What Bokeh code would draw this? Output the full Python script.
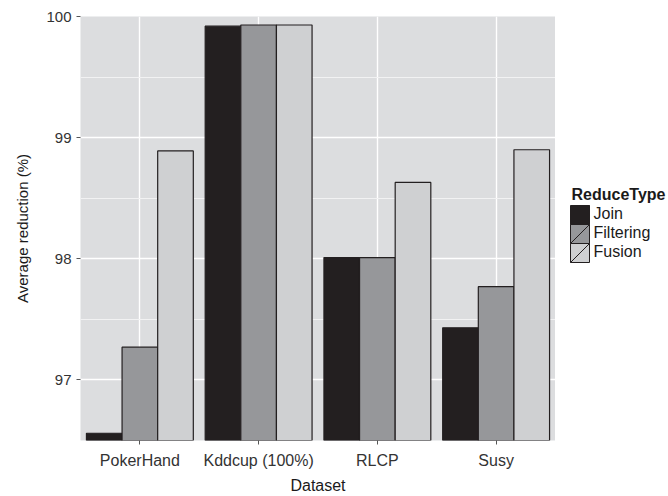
from bokeh.plotting import figure
from bokeh.models import Range1d, FactorRange, ColumnDataSource, FixedTicker
from bokeh.transform import dodge
from bokeh.layouts import row
from bokeh.core.properties import value
from bokeh.embed import file_html
from bokeh.resources import INLINE
import numpy as np

# ---- data ----
datasets = ["PokerHand", "Kddcup (100%)", "RLCP", "Susy"]
reduce_types = ["Join", "Filtering", "Fusion"]
join = [96.56, 99.92, 98.01, 97.43]
filtering = [97.27, 99.93, 98.01, 97.77]
fusion = [98.89, 99.93, 98.63, 98.90]
colors = ["#231f20", "#96979a", "#cfd0d2"]
y_ticks = [97, 98, 99, 100]
y_minor = [96.5, 97.5, 98.5, 99.5]
y_lo, y_hi = 96.5, 100.0

FONT_NAME = "Liberation Sans"
FONT = value(FONT_NAME)

TOP, BOTTOM, H = 16, 56, 496

p = figure(width=555, height=H, x_range=FactorRange(*datasets, range_padding=0),
           y_range=Range1d(y_lo, y_hi), output_backend="svg", toolbar_location=None,
           min_border_left=80, min_border_right=0, min_border_top=TOP, min_border_bottom=BOTTOM)
p.background_fill_color = "#dcdddf"
p.border_fill_color = "white"
p.outline_line_color = None

src = ColumnDataSource(dict(dataset=datasets, Join=join, Filtering=filtering, Fusion=fusion))
offsets = [-0.3, 0.0, 0.3]
for name, off, col in zip(reduce_types, offsets, colors):
    p.vbar(x=dodge("dataset", off, range=p.x_range), top=name, bottom=y_lo - 1, width=0.3,
           source=src, fill_color=col, line_color="#231f20", line_width=1.2)

# grids
p.yaxis.ticker = FixedTicker(ticks=y_ticks, minor_ticks=y_minor)
p.ygrid.grid_line_color = "white"
p.ygrid.grid_line_width = 1.4
p.ygrid.minor_grid_line_color = "#f2f2f3"
p.ygrid.minor_grid_line_width = 1.1
p.xgrid.grid_line_color = "white"
p.xgrid.grid_line_width = 1.4

# axes
for ax in (p.xaxis[0], p.yaxis[0]):
    ax.axis_line_color = None
    ax.major_tick_line_color = "#555555"
    ax.major_tick_line_width = 1
    ax.major_tick_out = 4
    ax.major_tick_in = 0
    ax.minor_tick_line_color = None
    ax.major_label_text_font = FONT_NAME
    ax.major_label_text_color = "#333333"
    ax.axis_label_text_font = FONT_NAME
    ax.axis_label_text_font_style = "normal"
    ax.axis_label_text_color = "#1a1a1a"

p.xaxis.major_label_text_font_size = "16px"
p.xaxis.axis_label_text_font_size = "16px"
p.yaxis.major_label_text_font_size = "15px"
p.yaxis.axis_label_text_font_size = "15px"

p.xaxis.axis_label = "Dataset"
p.xaxis.major_label_standoff = 7
p.xaxis.axis_label_standoff = 5
p.yaxis.axis_label = "Average reduction (%)"
p.yaxis.major_label_standoff = 5
p.yaxis.axis_label_standoff = 12

# ---- legend panel (frame aligned with main plot; y in page pixels) ----
lg = figure(width=113, height=H, x_range=Range1d(0, 113), y_range=Range1d(H - BOTTOM, TOP),
            output_backend="svg", toolbar_location=None,
            x_axis_location=None, y_axis_location=None,
            min_border_left=0, min_border_right=0, min_border_top=TOP, min_border_bottom=BOTTOM)
lg.grid.visible = False
lg.outline_line_color = None
lg.background_fill_color = "white"
lg.border_fill_color = "white"

key_left, key_size, first_top = 15, 19, 205
idx = np.arange(len(reduce_types))
tops = first_top + idx * key_size
lsrc = ColumnDataSource(dict(left=[key_left] * 3, right=[key_left + key_size] * 3,
                             top=tops, bottom=tops + key_size, color=colors,
                             label=reduce_types, ty=tops + key_size / 2 - 2,
                             tx=[key_left + key_size + 4] * 3))
lg.quad(left="left", right="right", top="top", bottom="bottom", fill_color="color",
        line_color="#231f20", line_width=1, source=lsrc)
lg.segment(x0="left", y0="bottom", x1="right", y1="top", line_color="#231f20",
           line_width=1, source=lsrc)
lg.text(x="tx", y="ty", text="label", text_font=FONT, text_font_size="16px",
        text_baseline="middle", text_color="#1a1a1a", source=lsrc)
lg.text(x=[key_left + 1], y=[first_top - 11], text=["ReduceType"], text_font=FONT,
        text_font_size="16px", text_font_style="bold", text_baseline="middle",
        text_color="#1a1a1a")

layout = row(p, lg)
open("out.html", "w").write(file_html(layout, INLINE))
